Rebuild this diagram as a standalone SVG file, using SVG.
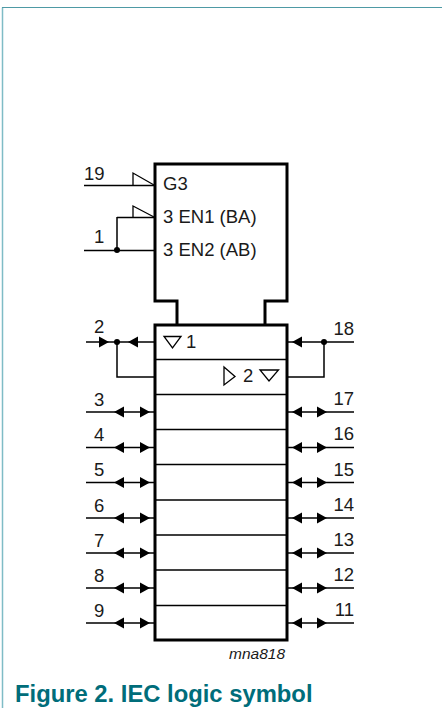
<svg xmlns="http://www.w3.org/2000/svg" width="442" height="709" viewBox="0 0 442 709">
<style>
text{font-family:"Liberation Sans",Arial,sans-serif;font-size:18.500px;fill:#1a1a1a}
.b{fill:none;stroke:#000;stroke-width:3}
.l{fill:none;stroke:#000;stroke-width:1.500}
.h{fill:#000;stroke:none}
.s{fill:none;stroke:#000;stroke-width:1.300}
.e{text-anchor:end}
</style>
<defs>
<path id="ar" class="h" d="M0,0L-10,-5.500V5.500Z"/>
<path id="al" class="h" d="M0,0L10,-5.500V5.500Z"/>
<g id="bl"><use href="#al" x="114"/><use href="#ar" x="150"/></g>
<g id="br"><use href="#al" x="292"/><use href="#ar" x="327"/></g>
</defs>
<g id="frame"><path d="M2.500,708V7.500" fill="none" stroke="#7fbcc6" stroke-width="1.500"/><path d="M2,7.500H442" fill="none" stroke="#4e9aa5" stroke-width="1"/></g>
<g id="control-block">
<path class="b" d="M177,324V301H155V164H287V301H265V324"/>
<path class="s" d="M133,185V173L154,185M133,217V206L154,217"/>
<text x="163" y="190">G3</text><text x="163" y="223">3 EN1 (BA)</text><text x="163" y="256">3 EN2 (AB)</text>
</g>
<g id="output-block">
<rect class="b" x="155" y="325" width="132" height="315"/>
<path class="l" d="M155,359.500H287M155,394.500H287M155,429.500H287M155,464.500H287M155,500H287M155,535H287M155,570H287M155,605.500H287"/>
<path class="s" d="M164,336.500H181L172.500,348ZM224,367L235,376.500L224,385ZM260,370H278.500L269,381Z"/>
<text x="186" y="348">1</text><text x="243" y="382">2</text>
</g>
<g id="connectors">
<path class="l" d="M84,185.500H154M117,217.500H154M117,217V250M84,250.500H154"/>
<circle cx="117" cy="250" r="3" class="h"/>
<path class="l" d="M86,342H154M117,342V377H154M354,342H287M324,342V377H287"/>
<circle cx="117" cy="342" r="3" class="h"/><circle cx="324" cy="342" r="3" class="h"/>
<use href="#ar" x="109" y="342"/><use href="#al" x="128" y="342"/><use href="#al" x="292" y="342"/>
<path class="l" d="M86,412H154M86,447.500H154M86,482.500H154M86,518H154M86,553H154M86,588H154M86,623H154M287,412H354M287,447.500H354M287,482.500H354M287,518H354M287,553H354M287,588H354M287,623H354"/>
<use href="#bl" y="412"/><use href="#br" y="412"/><use href="#bl" y="447.500"/><use href="#br" y="447.500"/><use href="#bl" y="482.500"/><use href="#br" y="482.500"/><use href="#bl" y="518"/><use href="#br" y="518"/><use href="#bl" y="553"/><use href="#br" y="553"/><use href="#bl" y="588"/><use href="#br" y="588"/><use href="#bl" y="623"/><use href="#br" y="623"/>
</g>
<g id="pin-labels">
<text x="84" y="180">19</text><text x="94" y="243">1</text><text x="94" y="333">2</text><text x="94" y="406">3</text><text x="94" y="441">4</text><text x="94" y="476">5</text><text x="94" y="512">6</text><text x="94" y="547">7</text><text x="94" y="582">8</text><text x="94" y="617">9</text>
<text x="354" y="335" class="e">18</text><text x="354" y="405" class="e">17</text><text x="354" y="440" class="e">16</text><text x="354" y="476" class="e">15</text><text x="354" y="511" class="e">14</text><text x="354" y="546" class="e">13</text><text x="354" y="581" class="e">12</text><text x="354" y="616" class="e">11</text>
</g>
<text x="285" y="659" class="e" style="font-size:15.500px;font-style:italic">mna818</text>
<text x="15" y="701.500" style="font-size:23.800px;font-weight:700;fill:#006d7a">Figure 2. IEC logic symbol</text>
</svg>
